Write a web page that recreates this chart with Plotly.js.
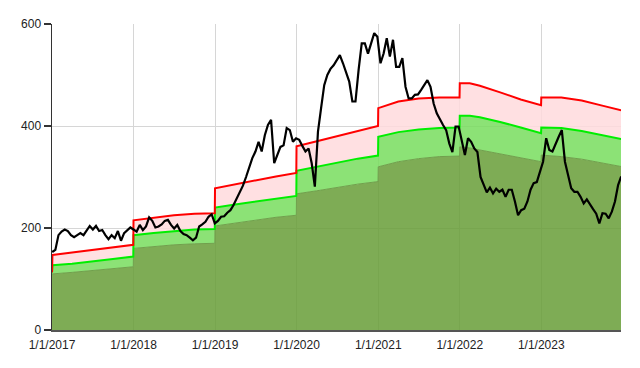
<!DOCTYPE html>
<html>
<head>
<meta charset="utf-8">
<script src="https://cdn.plot.ly/plotly-3.0.1.min.js"></script>
<style>html,body{margin:0;padding:0;background:#fff;}#chart{width:640px;height:368px;}</style>
</head>
<body>
<div id="chart"></div>
<script>
// ---- Data ----
// Band sample dates (steps at each 1 January)
const bandDates = [
  '2017-01-01','2017-01-03','2017-04-01','2017-07-01','2017-10-01','2017-12-31',
  '2018-01-01','2018-04-01','2018-07-01','2018-10-01','2018-12-31',
  '2019-01-01','2019-04-01','2019-07-01','2019-10-01','2019-12-31',
  '2020-01-01','2020-04-01','2020-07-01','2020-10-01','2020-12-31',
  '2021-01-01','2021-04-01','2021-07-01','2021-10-01','2021-12-31',
  '2022-01-01','2022-02-15','2022-04-01','2022-07-01','2022-10-01','2022-12-31',
  '2023-01-01','2023-04-01','2023-07-01','2023-10-01','2023-12-31'
];
// Top of the dark green area
const lowerBand = [
  110,110,113,117,121,124,
  160,164,167,169,170,
  204,210,216,221,225,
  267,273,280,286,291,
  320,330,336,340,341,
  359,357,353,345,337,330,
  343,340,335,328,320
];
// Bright green line
const middleBand = [
  113,127,130,134,139,144,
  186,190,194,197,198,
  240,246,252,258,263,
  312,320,328,336,342,
  379,388,393,396,397,
  420,420,417,408,397,386,
  397,396,390,382,374
];
// Red line
const upperBand = [
  113,147,152,157,162,167,
  215,220,225,228,229,
  278,286,294,301,308,
  360,370,380,390,400,
  435,448,454,456,456,
  484,484,479,466,452,441,
  456,456,450,440,430
];

// Price, sampled every 14 days from 2017-01-02
const priceStart = '2017-01-02';
const priceStepDays = 14;
const price2017 = [153,157,186,193,197,194,186,182,186,190,186,196,204,197,204,194,196,186,178,186,180,194,175,190,196,201];
const price2018 = [197,193,206,196,203,221,214,201,203,207,214,216,206,199,206,194,188,186,181,176,181,203,207,212,222,227];
const price2019 = [209,214,222,223,230,235,245,258,268,283,300,320,337,350,369,350,382,402,412,327,343,359,362,396,392,369];
const price2020 = [376,373,361,350,356,327,281,389,435,480,500,512,519,529,539,523,507,487,448,448,510,562,562,542,562,582];
const price2021 = [575,523,542,572,536,569,516,516,533,477,454,454,461,462,471,480,490,477,444,425,412,402,392,366,349,399];
const price2022 = [399,373,343,376,369,356,349,300,283,270,279,268,277,271,275,261,275,275,252,225,235,238,252,275,288,290];
const price2023 = [310,330,376,353,350,366,379,392,330,304,278,271,271,261,248,256,245,237,228,209,229,228,219,232,252,284,301];

const yTicks = [0,200,400,600];

// ---- Build ----
const priceValues = [].concat(price2017,price2018,price2019,price2020,price2021,price2022,price2023);
const t0 = Date.parse(priceStart + 'T00:00:00Z');
const priceDates = priceValues.map((_, i) => new Date(t0 + i*priceStepDays*864e5).toISOString().slice(0,10));

const traces = [
  {x: bandDates, y: lowerBand, type:'scatter', mode:'lines', fill:'tozeroy',
   fillcolor:'rgba(103,157,55,0.85)', line:{color:'rgb(112,160,76)', width:1}, hoverinfo:'skip'},
  {x: bandDates, y: middleBand, type:'scatter', mode:'lines', fill:'tonexty',
   fillcolor:'rgba(120,221,94,0.85)', line:{color:'rgb(0,238,0)', width:2}, hoverinfo:'skip'},
  {x: bandDates, y: upperBand, type:'scatter', mode:'lines', fill:'tonexty',
   fillcolor:'rgba(255,218,221,0.85)', line:{color:'rgb(255,0,0)', width:2}, hoverinfo:'skip'},
  {x: priceDates, y: priceValues, type:'scatter', mode:'lines',
   line:{color:'#000', width:2.2}}
];

const layout = {
  width: 640, height: 368,
  margin: {l:52, r:19, t:24, b:38},
  paper_bgcolor:'#fff', plot_bgcolor:'#fff',
  showlegend:false,
  font:{family:'"Liberation Sans", Arial, sans-serif', size:12, color:'#222'},
  xaxis:{
    type:'date', range:['2017-01-01','2023-12-24'],
    tick0:'2017-01-01', dtick:'M12', tickformat:'%-m/%-d/%Y',
    showgrid:true, gridcolor:'#d6d6d6', gridwidth:1,
    showline:true, linecolor:'#555', linewidth:1.5,
    ticks:'', zeroline:false, ticklabelstandoff:3
  },
  yaxis:{
    range:[0,600], tickvals:yTicks, ticktext:yTicks.map(String),
    showgrid:true, gridcolor:'#d6d6d6', gridwidth:1,
    showline:true, linecolor:'#333', linewidth:1.5,
    ticks:'outside', ticklen:7, tickcolor:'#333', tickwidth:1.5,
    zeroline:false
  }
};

Plotly.newPlot('chart', traces, layout, {displayModeBar:false, staticPlot:true});
</script>
</body>
</html>
